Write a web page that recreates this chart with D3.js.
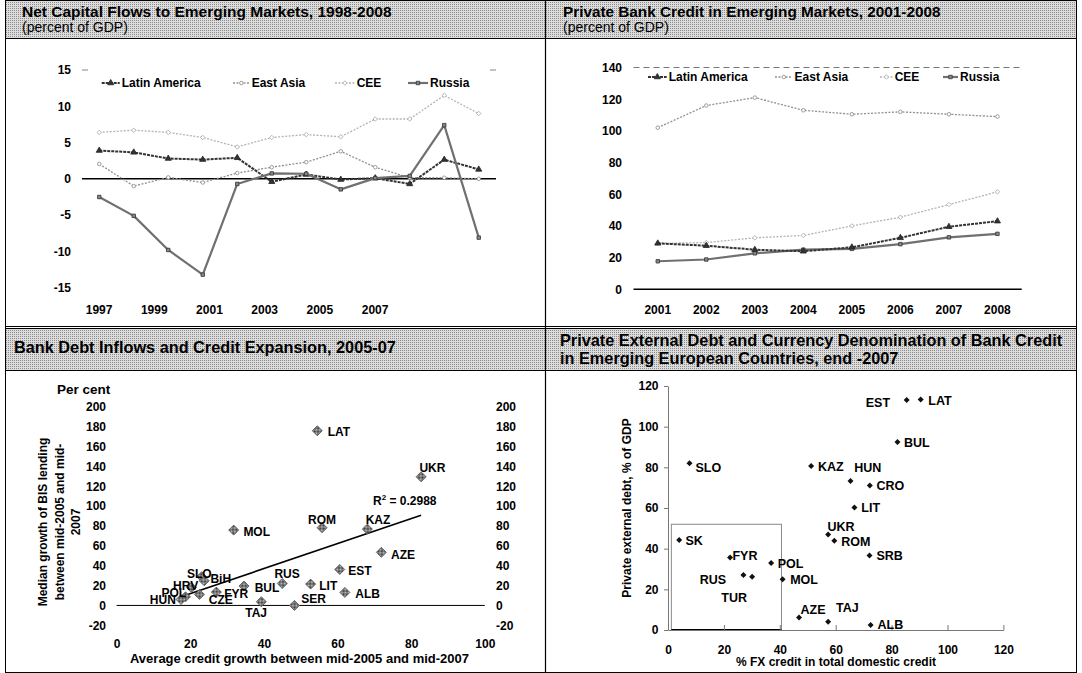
<!DOCTYPE html>
<html>
<head>
<meta charset="utf-8">
<script src="https://cdn.jsdelivr.net/npm/d3@7"></script>
<style>
  body { margin: 0; background: #fff; }
  svg { display: block; }
</style>
</head>
<body>
<svg id="chart" width="1082" height="673"></svg>
<script>
// ---------------- data ----------------
// Panel 1: net capital flows, percent of GDP
const flowYears = d3.range(1997, 2009);
const flowYearLabels = [1997, 1999, 2001, 2003, 2005, 2007];
const flowTicks = [15, 10, 5, 0, -5, -10, -15];
const flowLatinAmerica = [3.9, 3.65, 2.8, 2.65, 2.9, -0.4, 0.6, -0.1, 0.1, -0.7, 2.65, 1.3];
const flowEastAsia     = [2.05, -1.0, 0.2, -0.5, 0.8, 1.6, 2.3, 3.8, 1.6, 0.15, 0.15, 0.0];
const flowCEE          = [6.4, 6.7, 6.4, 5.7, 4.4, 5.7, 6.1, 5.8, 8.25, 8.25, 11.5, 9.0];
const flowRussia       = [-2.5, -5.1, -9.8, -13.2, -0.7, 0.75, 0.7, -1.45, 0.1, 0.4, 7.4, -8.1];

// Panel 2: private bank credit, percent of GDP
const creditYears = d3.range(2001, 2009);
const creditTicks = [0, 20, 40, 60, 80, 100, 120, 140];
const creditLatinAmerica = [29, 27.5, 25, 24, 26.5, 32.5, 39.5, 43];
const creditEastAsia     = [102, 116, 121, 113, 110.5, 112, 110.5, 109];
const creditCEE          = [29, 29.5, 32.5, 34, 40, 45.5, 53.5, 61.5];
const creditRussia       = [17.7, 18.8, 22.7, 25, 25.5, 28.5, 32.8, 35];

const seriesNames = ["Latin America", "East Asia", "CEE", "Russia"];

// Panel 3: BIS lending growth vs credit growth, mid-2005 to mid-2007
const bisCountries = ["LAT","UKR","ROM","KAZ","MOL","AZE","EST","RUS","LIT","ALB",
                      "SER","TAJ","BUL","FYR","CZE","SLO","BiH","HRV","POL","HUN"];
const bisCreditGrowth  = [54.5, 82.7, 55.8, 68.1, 31.8, 71.9, 60.6, 45.0, 52.7, 62.0,
                          48.3, 39.3, 34.6, 27.1, 22.5, 23.1, 23.8, 20.3, 18.7, 17.5];
const bisLendingGrowth = [175.8, 129.5, 78.2, 76.8, 75.8, 53.4, 36.2, 22.1, 21.5, 13.1,
                          0.0, 3.7, 19.5, 13.4, 11.1, 28.9, 24.8, 18.1, 8.7, 6.0];
const bisXTicks = [0, 20, 40, 60, 80, 100];
const bisYTicks = [-20, 0, 20, 40, 60, 80, 100, 120, 140, 160, 180, 200];
const bisR2Text = "0.2988";

// Panel 4: private external debt vs FX share of credit, end-2007
const euroCountries = ["EST","LAT","BUL","SLO","KAZ","HUN","CRO","LIT","UKR","ROM",
                       "SRB","SK","FYR","POL","RUS","TUR","MOL","AZE","TAJ","ALB"];
const euroFxShare = [85.4, 90.4, 82.1, 7.7, 51.2, 65.3, 72.2, 66.7, 57.3, 59.5,
                     72.1, 4.0, 22.2, 36.9, 27.0, 30.1, 41.0, 46.9, 57.3, 72.5];
const euroExtDebt = [113.1, 113.4, 92.5, 82.0, 80.7, 73.3, 71.1, 60.2, 47.0, 43.9,
                     36.6, 44.3, 35.6, 33.0, 27.0, 26.2, 24.9, 6.2, 4.1, 2.5];
const euroTicks = [0, 20, 40, 60, 80, 100, 120];
const euroBoxX = [1.2, 40.6];
const euroBoxY = [0, 52];

// ---------------- drawing ----------------
const FONT = "Arial, 'Liberation Sans', Helvetica, sans-serif";
const svg = d3.select("#chart").attr("font-family", FONT);
const defs = svg.append("defs");
const plain = d => String(d);   // keep ASCII hyphen for negatives

// fine dither used in the header bands
const band = defs.append("pattern").attr("id", "bandFill")
  .attr("width", 2).attr("height", 2).attr("patternUnits", "userSpaceOnUse");
band.append("rect").attr("width", 2).attr("height", 2).attr("fill", "#dcdcdc");
band.append("rect").attr("width", 1).attr("height", 1).attr("fill", "#8c8c8c");

// checkered fill for the scatter diamonds
const chk = defs.append("pattern").attr("id", "diaFill")
  .attr("width", 2).attr("height", 2).attr("patternUnits", "userSpaceOnUse");
chk.append("rect").attr("width", 2).attr("height", 2).attr("fill", "#c8c8c8");
chk.append("rect").attr("width", 1).attr("height", 1).attr("fill", "#2a2a2a");
chk.append("rect").attr("x", 1).attr("y", 1).attr("width", 1).attr("height", 1).attr("fill", "#2a2a2a");

// panel frames and header bands
const frame = svg.append("g");
frame.append("rect").attr("x", 5).attr("y", 1).attr("width", 1072).attr("height", 37).attr("fill", "url(#bandFill)");
frame.append("rect").attr("x", 5).attr("y", 329).attr("width", 1072).attr("height", 41).attr("fill", "url(#bandFill)");
frame.append("rect").attr("x", 5.5).attr("y", 0.5).attr("width", 1071).attr("height", 672)
  .attr("fill", "none").attr("stroke", "#000");
[[38.5, 1], [326.5, 1.2], [328.5, 1.2], [370.5, 1]].forEach(([y, w]) =>
  frame.append("line").attr("x1", 5).attr("x2", 1077).attr("y1", y).attr("y2", y)
    .attr("stroke", "#000").attr("stroke-width", w));
frame.append("line").attr("x1", 545.5).attr("x2", 545.5).attr("y1", 0).attr("y2", 673)
  .attr("stroke", "#000").attr("stroke-width", 1.2);

function title(x, y, txt, size, weight) {
  svg.append("text").attr("x", x).attr("y", y).attr("font-size", size)
    .attr("font-weight", weight).attr("fill", "#000").text(txt);
}
title(22, 17, "Net Capital Flows to Emerging Markets, 1998-2008", 15.5, "bold");
title(22, 32, "(percent of GDP)", 14, "normal");
title(563, 17, "Private Bank Credit in Emerging Markets, 2001-2008", 15.3, "bold");
title(563, 32, "(percent of GDP)", 14, "normal");
title(14, 353, "Bank Debt Inflows and Credit Expansion, 2005-07", 16.3, "bold");
title(560, 346, "Private External Debt and Currency Denomination of Bank Credit", 16.3, "bold");
title(560, 364, "in Emerging European Countries, end -2007", 16.3, "bold");

function cleanAxis(g, size, weight) {
  g.attr("font-family", FONT).attr("font-size", size).attr("font-weight", weight);
  g.selectAll("text").attr("fill", "#000");
  return g;
}

// square diamond (a square turned 45 degrees)
const diamond = area => d3.symbol(d3.symbolSquare, area)();

// line styles shared by the two time-series panels
const lineStyles = {
  "Latin America": { stroke: "#333", width: 2, dash: "3,1", symbol: d3.symbolTriangle, size: 16, fill: "#333", mstroke: "#222", rot: 0 },
  "East Asia":     { stroke: "#909090", width: 1.3, dash: "2,1.5", symbol: d3.symbolCircle, size: 10, fill: "#fff", mstroke: "#888", rot: 0 },
  "CEE":           { stroke: "#b4b4b4", width: 1.3, dash: "2,1.5", symbol: d3.symbolSquare, size: 10, fill: "#fff", mstroke: "#aaa", rot: 45 },
  "Russia":        { stroke: "#707070", width: 2.2, dash: null, symbol: d3.symbolSquare, size: 12, fill: "#888", mstroke: "#333", rot: 0 }
};

function drawSeries(g, xPos, y, years, values, style) {
  const line = d3.line().x((d, i) => xPos(years[i])).y(d => y(d));
  g.append("path").datum(values).attr("d", line).attr("fill", "none")
    .attr("stroke", style.stroke).attr("stroke-width", style.width)
    .attr("stroke-dasharray", style.dash).attr("stroke-linejoin", "round");
  g.selectAll(null).data(values).join("path")
    .attr("transform", (d, i) => `translate(${xPos(years[i])},${y(d)}) rotate(${style.rot})`)
    .attr("d", d3.symbol(style.symbol, style.size))
    .attr("fill", style.fill).attr("stroke", style.mstroke).attr("stroke-width", 0.8);
}

function drawLegend(g, cy, starts, textStarts) {
  seriesNames.forEach((name, i) => {
    const s = lineStyles[name];
    const x0 = starts[i], x1 = textStarts[i] - 2;
    g.append("line").attr("x1", x0).attr("x2", x1).attr("y1", cy).attr("y2", cy)
      .attr("stroke", s.stroke).attr("stroke-width", s.width).attr("stroke-dasharray", s.dash);
    g.append("path").attr("transform", `translate(${(x0 + x1) / 2},${cy}) rotate(${s.rot})`)
      .attr("d", d3.symbol(s.symbol, s.size)).attr("fill", s.fill)
      .attr("stroke", s.mstroke).attr("stroke-width", 0.8);
    g.append("text").attr("x", textStarts[i]).attr("y", cy + 4.3)
      .attr("font-size", 12).attr("font-weight", "bold").attr("fill", "#000").text(name);
  });
}

// ---------- panel 1 ----------
{
  const g = svg.append("g");
  const x = d3.scaleBand().domain(flowYears).range([82, 496]);
  const xPos = d => x(d) + x.bandwidth() / 2;
  const xLab = d3.scaleLinear().domain([1996.4, 2011.4]).range([82, 496]);
  const y = d3.scaleLinear().domain([-15, 15]).range([287.7, 70]);

  cleanAxis(g.append("g").attr("transform", "translate(71,0)")
    .call(d3.axisLeft(y).tickValues(flowTicks).tickFormat(plain).tickSize(0).tickPadding(0)), 12, "bold")
    .select(".domain").remove();
  cleanAxis(g.append("g").attr("transform", "translate(0,302)")
    .call(d3.axisBottom(xLab).tickValues(flowYearLabels).tickFormat(d3.format("d")).tickSize(0).tickPadding(3)), 12, "bold")
    .select(".domain").remove();

  // short end marks of the upper plot edge
  [[82, 88], [490, 496]].forEach(([a, b]) =>
    g.append("line").attr("x1", a).attr("x2", b).attr("y1", y(15)).attr("y2", y(15))
      .attr("stroke", "#888").attr("stroke-width", 1));

  g.append("line").attr("x1", 82).attr("x2", 496).attr("y1", y(0)).attr("y2", y(0))
    .attr("stroke", "#000").attr("stroke-width", 1.5);

  const data = [flowLatinAmerica, flowEastAsia, flowCEE, flowRussia];
  [2, 1, 0, 3].forEach(i => drawSeries(g, xPos, y, flowYears, data[i], lineStyles[seriesNames[i]]));
  drawLegend(g, 83, [101.7, 233, 335, 408], [121.7, 251.7, 356.7, 430]);
}

// ---------- panel 2 ----------
{
  const g = svg.append("g");
  const x = d3.scaleBand().domain(creditYears).range([633.5, 1021.7]);
  const xPos = d => x(d) + x.bandwidth() / 2;
  const y = d3.scaleLinear().domain([0, 140]).range([289.3, 67.5]);

  cleanAxis(g.append("g").attr("transform", "translate(622,0)")
    .call(d3.axisLeft(y).tickValues(creditTicks).tickFormat(plain).tickSize(0).tickPadding(0)), 12, "bold")
    .select(".domain").remove();
  cleanAxis(g.append("g").attr("transform", "translate(0,303)")
    .call(d3.axisBottom(x).tickSize(0).tickPadding(2.5)), 12, "bold")
    .select(".domain").remove();

  g.append("line").attr("x1", 633.5).attr("x2", 1021.7).attr("y1", y(140)).attr("y2", y(140))
    .attr("stroke", "#777").attr("stroke-width", 1).attr("stroke-dasharray", "6,4");
  g.append("line").attr("x1", 633.5).attr("x2", 1021.7).attr("y1", y(0)).attr("y2", y(0))
    .attr("stroke", "#000").attr("stroke-width", 1.5);

  const data = [creditLatinAmerica, creditEastAsia, creditCEE, creditRussia];
  [2, 1, 3, 0].forEach(i => drawSeries(g, xPos, y, creditYears, data[i], lineStyles[seriesNames[i]]));
  drawLegend(g, 77, [648, 775, 880, 943], [668.7, 794.6, 894.7, 960]);
}

// ---------- panel 3 ----------
{
  const g = svg.append("g");
  const x = d3.scaleLinear().domain([0, 100]).range([116.6, 484.8]);
  const y = d3.scaleLinear().domain([-20, 200]).range([625.3, 406.7]);

  cleanAxis(g.append("g").attr("transform", "translate(106,0)")
    .call(d3.axisLeft(y).tickValues(bisYTicks).tickFormat(plain).tickSize(0).tickPadding(0)), 12, "bold")
    .select(".domain").remove();
  cleanAxis(g.append("g").attr("transform", "translate(496,0)")
    .call(d3.axisRight(y).tickValues(bisYTicks).tickFormat(plain).tickSize(0).tickPadding(0)), 12, "bold")
    .select(".domain").remove();
  cleanAxis(g.append("g").attr("transform", "translate(0,636.5)")
    .call(d3.axisBottom(x).tickValues(bisXTicks).tickSize(0).tickPadding(3)), 12, "bold")
    .select(".domain").remove();

  g.append("line").attr("x1", x(0)).attr("x2", x(100)).attr("y1", y(0)).attr("y2", y(0))
    .attr("stroke", "#000").attr("stroke-width", 1);

  g.append("text").attr("x", 57).attr("y", 394).attr("font-size", 13.5).attr("font-weight", "bold").text("Per cent");
  g.append("text").attr("x", 299.5).attr("y", 663).attr("text-anchor", "middle")
    .attr("font-size", 13).attr("font-weight", "bold")
    .text("Average credit growth between mid-2005 and mid-2007");
  ["Median growth of BIS lending", "between mid-2005 and mid-", "2007"].forEach((t, i) =>
    g.append("text").attr("transform", `translate(${[43, 59.5, 76][i]},522) rotate(-90)`)
      .attr("text-anchor", "middle").attr("dy", "0.35em")
      .attr("font-size", 12).attr("font-weight", "bold").text(t));

  // least-squares trend line through the points
  const mx = d3.mean(bisCreditGrowth), my = d3.mean(bisLendingGrowth);
  const sxy = d3.sum(bisCreditGrowth, (v, i) => (v - mx) * (bisLendingGrowth[i] - my));
  const sxx = d3.sum(bisCreditGrowth, v => (v - mx) * (v - mx));
  const slope = sxy / sxx, icpt = my - slope * mx;
  const [xa, xb] = d3.extent(bisCreditGrowth);
  g.append("line").attr("x1", x(xa)).attr("y1", y(icpt + slope * xa))
    .attr("x2", x(xb)).attr("y2", y(icpt + slope * xb))
    .attr("stroke", "#000").attr("stroke-width", 1.6);

  const r2 = g.append("text").attr("x", 373).attr("y", 505).attr("font-size", 12).attr("font-weight", "bold");
  r2.append("tspan").text("R");
  r2.append("tspan").attr("dy", -5).attr("font-size", 8).text("2");
  r2.append("tspan").attr("dy", 5).text(" = " + bisR2Text);

  const bisLabelPlace = {
    LAT: [10.4, 1, "start"], UKR: [-1.7, -9.3, "start"], ROM: [0, -7.7, "middle"],
    KAZ: [-1.7, -9, "start"], MOL: [9.7, 1.7, "start"], AZE: [9.7, 2, "start"],
    EST: [8.6, 1.3, "start"], RUS: [4.8, -9.3, "middle"], LIT: [8.6, 1.3, "start"],
    ALB: [10.4, 1.7, "start"], SER: [6.9, -6.7, "start"], TAJ: [-5.2, 10.7, "middle"],
    BUL: [10.7, 1.3, "start"], FYR: [7.9, 1.3, "start"], CZE: [9.3, 5.7, "start"],
    SLO: [-2.4, -3.3, "middle"], BiH: [6.2, -2.3, "start"], HRV: [6.9, -1.7, "end"],
    POL: [0.7, -4, "end"], HUN: [-5.2, 0, "end"]
  };
  const pts = bisCountries.map((c, i) => ({ c, x: bisCreditGrowth[i], y: bisLendingGrowth[i] }));
  g.selectAll(null).data(pts).join("path")
    .attr("transform", d => `translate(${x(d.x)},${y(d.y)}) rotate(45)`)
    .attr("d", diamond(50))
    .attr("fill", "url(#diaFill)").attr("stroke", "#555").attr("stroke-width", 0.8);
  g.selectAll(null).data(pts).join("text")
    .attr("x", d => x(d.x) + bisLabelPlace[d.c][0])
    .attr("y", d => y(d.y) + bisLabelPlace[d.c][1] + 4.2)
    .attr("text-anchor", d => bisLabelPlace[d.c][2])
    .attr("font-size", 12).attr("fill", "#000").attr("font-weight", "bold")
    .text(d => d.c);
}

// ---------- panel 4 ----------
{
  const g = svg.append("g");
  const x = d3.scaleLinear().domain([0, 120]).range([668, 1003.4]);
  const y = d3.scaleLinear().domain([0, 120]).range([630, 386]);

  g.append("rect").attr("x", x(euroBoxX[0])).attr("y", y(euroBoxY[1]))
    .attr("width", x(euroBoxX[1]) - x(euroBoxX[0])).attr("height", y(euroBoxY[0]) - y(euroBoxY[1]))
    .attr("fill", "none").attr("stroke", "#8a8a8a").attr("stroke-width", 1);
  g.append("line").attr("x1", x(euroBoxX[0])).attr("x2", x(euroBoxX[1]))
    .attr("y1", y(0)).attr("y2", y(0)).attr("stroke", "#000").attr("stroke-width", 2);

  const ya = g.append("g").attr("transform", `translate(${x(0)},0)`)
    .call(d3.axisLeft(y).tickValues(euroTicks).tickSize(4).tickSizeOuter(0).tickPadding(5.5));
  cleanAxis(ya, 12, "bold");
  ya.selectAll("path,line").attr("stroke", "#777");
  const xa = g.append("g").attr("transform", `translate(0,${y(0)})`)
    .call(d3.axisBottom(x).tickValues(euroTicks).tickSize(-5).tickSizeOuter(0).tickPadding(15));
  cleanAxis(xa, 12, "bold");
  xa.selectAll("path,line").attr("stroke", "#777");

  g.append("text").attr("x", 836).attr("y", 666).attr("text-anchor", "middle")
    .attr("font-size", 12).attr("font-weight", "bold").text("% FX credit in total domestic credit");
  g.append("text").attr("transform", "translate(626.6,508) rotate(-90)")
    .attr("text-anchor", "middle").attr("dy", "0.35em")
    .attr("font-size", 12).attr("font-weight", "bold").text("Private external debt, % of GDP");

  const euroLabelPlace = {
    EST: [-16.6, 2.7, "end"], LAT: [7.6, 0.7, "start"], BUL: [6.6, 0.7, "start"],
    SLO: [5.9, 4, "start"], KAZ: [6.9, 0.7, "start"], HUN: [3.8, -13.3, "start"],
    CRO: [6.6, 0.3, "start"], LIT: [6.9, 0, "start"], UKR: [-0.7, -7.7, "start"],
    ROM: [6.9, 1, "start"], SRB: [6.9, 0.3, "start"], SK: [6.2, 0.7, "start"],
    FYR: [2.4, -2.3, "start"], POL: [6.6, 1, "start"], RUS: [-17.3, 4.3, "end"],
    TUR: [-18, 20.7, "middle"], MOL: [7.6, 0.7, "start"], AZE: [1.4, -8, "start"],
    TAJ: [7.9, -14.3, "start"], ALB: [6.9, 0, "start"]
  };
  const pts = euroCountries.map((c, i) => ({ c, x: euroFxShare[i], y: euroExtDebt[i] }));
  g.selectAll(null).data(pts).join("path")
    .attr("transform", d => `translate(${x(d.x)},${y(d.y)}) rotate(45)`)
    .attr("d", diamond(18))
    .attr("fill", "#111");
  g.selectAll(null).data(pts).join("text")
    .attr("x", d => x(d.x) + euroLabelPlace[d.c][0])
    .attr("y", d => y(d.y) + euroLabelPlace[d.c][1] + 4.4)
    .attr("text-anchor", d => euroLabelPlace[d.c][2])
    .attr("font-size", 12.5).attr("font-weight", "bold").attr("fill", "#000")
    .text(d => d.c);
}
</script>
</body>
</html>
